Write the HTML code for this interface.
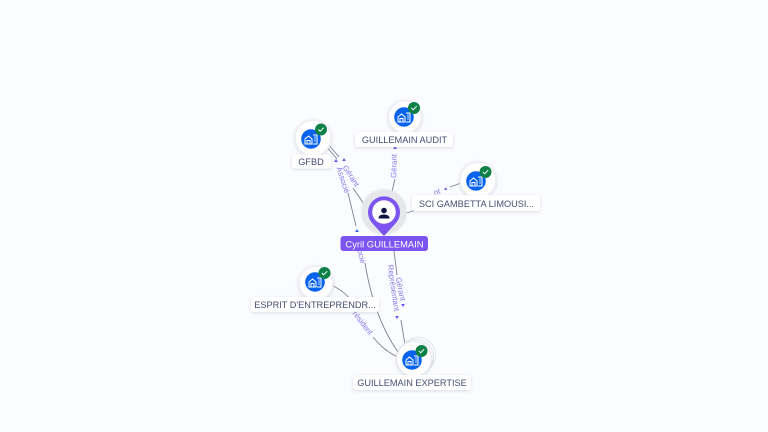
<!DOCTYPE html>
<html><head><meta charset="utf-8"><style>
html,body{margin:0;padding:0;background:#fbfcff;width:768px;height:432px;overflow:hidden}
svg{display:block}
text{font-family:"Liberation Sans",sans-serif}
.l{font-size:9.2px;fill:#474d72;text-anchor:middle}
.e{font-size:7.8px;fill:#8478ec;text-anchor:middle}
.p{fill:none;stroke:#7d8096;stroke-width:.9}
</style></head><body>
<svg width="768" height="432" viewBox="0 0 768 432" xmlns="http://www.w3.org/2000/svg">
<defs>
<filter id="s" x="-30%" y="-30%" width="160%" height="160%"><feDropShadow dx="0" dy="1" stdDeviation="1.600" flood-color="#8a90b0" flood-opacity=".3"/></filter>
<filter id="b" x="-20%" y="-20%" width="140%" height="140%"><feGaussianBlur stdDeviation=".8"/></filter>
<g id="ic"><path d="M-6 5V0L-2.500-3 1 0V5ZM-4 5V1.500H-1V5M2-4H6V5H2" fill="none" stroke="#fff" stroke-width="1"/><path d="M3-2H5M3 0H5M3 2H5" stroke="#fff" stroke-width=".7"/></g>
<g id="ck"><circle r="6" fill="#0d8048"/><path d="M-2.600 0L-.8 1.800 2.700-1.800" fill="none" stroke="#fff" stroke-width="1"/></g>
</defs>
<rect width="768" height="432" fill="#fbfcff"/>

<!-- edges -->
<path class="p" d="M326 146L337 159"/><path class="p" d="M328 144L339 157"/>
<path class="p" d="M353 188L368 210"/>
<path class="p" d="M348 193L356 226"/>
<path class="p" d="M395 179L390 200"/>
<path class="p" d="M400 215L416 210"/>
<path class="p" d="M450 187L461 183"/>
<path class="p" d="M394 251L397 275"/>
<path class="p" d="M401 320L405 345"/>
<path class="p" d="M365 263Q374 318 398 352"/>
<path class="p" d="M331 285Q345 291 353 303"/>
<path class="p" d="M373 337Q384 351 398 357"/>

<!-- arrowheads -->
<g fill="#6a5cf0">
<path d="M393 149l2-3 2 3z"/><path d="M342 161l2-3 2 3z"/><path d="M334 162l2-3 2 3z"/><path d="M355 232l2-3 2 3z" fill="#3a6ff0"/>
<path d="M444 190l2-3 1 3z"/><path d="M401 304l2 3 2-3z"/><path d="M395 316l2 3 2-3z"/>
</g>

<!-- edge labels -->
<text class="e" transform="translate(394,166) rotate(-89)" dy="2.500">Gérant</text>
<text class="e" transform="translate(351,176) rotate(57)" dy="2.500">Gérant</text>
<text class="e" transform="translate(343,180) rotate(72)" dy="2.500">Associé</text>
<text class="e" transform="translate(437,192) rotate(-20)" dy="2.500">nt</text>
<text class="e" transform="translate(360,250) rotate(78)" dy="2.500">Associé</text>
<text class="e" transform="translate(400.500,289) rotate(78)" dy="2.500">Gérant</text>
<text class="e" transform="translate(393.500,288) rotate(82)" dy="2.500">Représentant</text>
<text class="e" transform="translate(361,321) rotate(52)" dy="2.500">Président</text>

<!-- GFBD -->
<circle cx="313" cy="138" r="18" fill="#fff" stroke="#eceef2" stroke-width="1.500" filter="url(#s)"/>
<circle cx="311" cy="139" r="9.800" fill="#0763ee"/><use href="#ic" x="311" y="139"/><use href="#ck" x="321" y="129.500"/>
<rect x="292" y="154.500" width="39" height="14" rx="3" fill="#fff" filter="url(#s)"/><text class="l" x="311" y="165">GFBD</text>

<!-- AUDIT -->
<circle cx="405" cy="117" r="16.500" fill="#fff" stroke="#eceef2" stroke-width="1.500" filter="url(#s)"/>
<circle cx="404" cy="117" r="9.800" fill="#0763ee"/><use href="#ic" x="404" y="117"/><use href="#ck" x="414" y="108"/>
<rect x="355" y="132" width="98" height="15" rx="3" fill="#fff" filter="url(#s)"/><text class="l" x="404.500" y="143">GUILLEMAIN AUDIT</text>

<!-- SCI -->
<circle cx="478" cy="180" r="18" fill="#fff" stroke="#eceef2" stroke-width="1.500" filter="url(#s)"/>
<circle cx="476" cy="181" r="9.800" fill="#0763ee"/><use href="#ic" x="476" y="181"/><use href="#ck" x="485.500" y="172"/>
<rect x="412" y="195" width="128" height="16" rx="3" fill="#fff" filter="url(#s)"/><text class="l" x="476.500" y="207">SCI GAMBETTA LIMOUSI...</text>

<!-- ESPRIT -->
<circle cx="316" cy="283" r="17" fill="#fff" stroke="#eceef2" stroke-width="1.500" filter="url(#s)"/>
<circle cx="315" cy="282" r="9.800" fill="#0763ee"/><use href="#ic" x="315" y="282"/><use href="#ck" x="324.500" y="273"/>
<rect x="251" y="297" width="128" height="15" rx="3" fill="#fff" filter="url(#s)"/><text class="l" x="315" y="308">ESPRIT D'ENTREPRENDR...</text>

<!-- EXPERTISE -->
<circle cx="418" cy="355" r="17.500" fill="#fff" stroke="#e6e8ee" stroke-width="1.200"/>
<circle cx="416" cy="357" r="17.500" fill="#fff" stroke="#e6e8ee" stroke-width="1.200"/>
<circle cx="414" cy="359" r="17.500" fill="#fff" stroke="#e6e8ee" stroke-width="1.200" filter="url(#s)"/>
<circle cx="412" cy="360" r="9.800" fill="#0763ee"/><use href="#ic" x="412" y="360"/><use href="#ck" x="421.500" y="351"/>
<rect x="353" y="375" width="118" height="15" rx="3" fill="#fff" filter="url(#s)"/><text class="l" x="412" y="386">GUILLEMAIN EXPERTISE</text>

<!-- center -->
<circle cx="384" cy="212" r="23" fill="#e6e7ea" filter="url(#b)"/>
<path d="M384 236L373 224A16 16 0 1 1 395 224Z" fill="#7c55f0"/>
<circle cx="384" cy="212" r="11.800" fill="#fff"/>
<circle cx="384" cy="210.500" r="2.800" fill="#0d1440"/>
<path d="M378.500 218.500Q378.500 214.500 384 214.500Q389.500 214.500 389.500 218.500Z" fill="#0d1440"/>
<rect x="340.500" y="236" width="87.500" height="15" rx="3" fill="#7c55f0"/>
<text x="384.500" y="247.500" text-anchor="middle" font-size="9.400" fill="#fff">Cyril GUILLEMAIN</text>
</svg>
</body></html>
